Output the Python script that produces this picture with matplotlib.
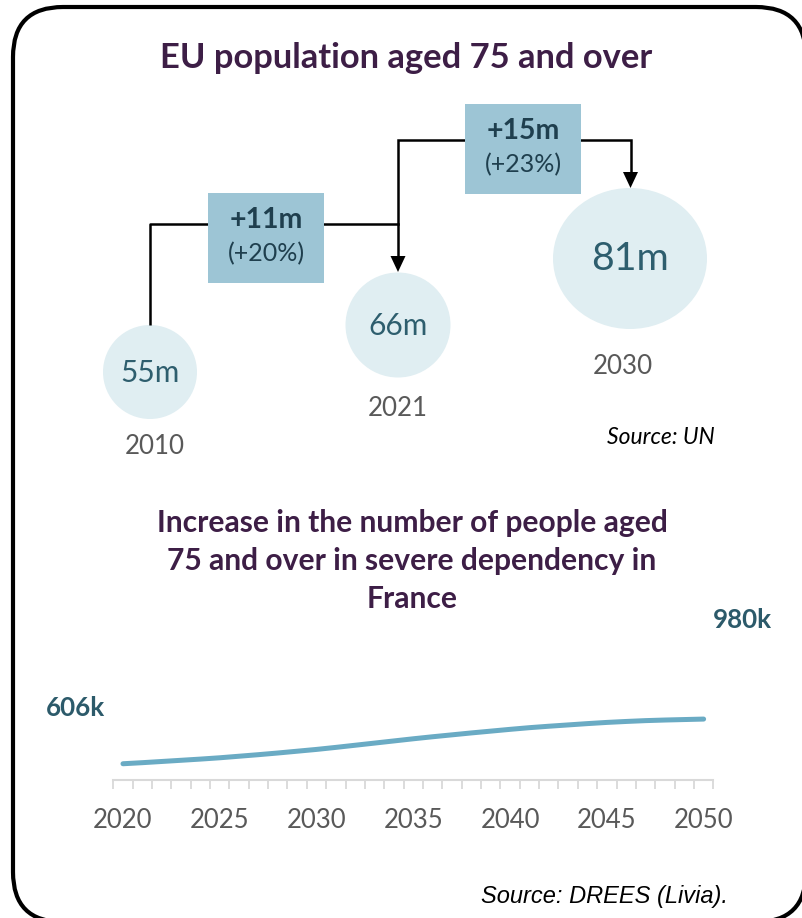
import matplotlib
matplotlib.use("Agg")
import matplotlib.pyplot as plt
from matplotlib.patches import FancyBboxPatch, Ellipse, Rectangle

# ---------------- data ----------------
eu_years = ["2010", "2021", "2030"]
eu_pop_m = [55, 66, 81]            # EU population aged 75+ (millions)
eu_change_m = [11, 15]             # absolute change between steps (millions)
eu_change_pct = [20, 23]           # relative change between steps (%)

fr_years = list(range(2020, 2051))
fr_dependent_k = [606, 615, 625, 635, 645, 656, 669, 682, 696, 711,
                  726, 743, 761, 779, 797, 815, 832, 848, 864, 879,
                  894, 908, 920, 931, 942, 952, 960, 967, 972, 976, 980]
fr_tick_labels = ["2020", "2025", "2030", "2035", "2040", "2045", "2050"]

# ---------------- styles ----------------
W, H = 802, 918
PURPLE = "#3d1e46"
CIRCLE = "#e0eef2"
BOX = "#9dc5d5"
BOXTXT = "#1f3f4e"
CIRCTXT = "#2e5e6e"
GREY = "#595959"
LINE = "#6aabc4"
KTXT = "#2c5a6a"
FONT = "Lato"

fig = plt.figure(figsize=(W / 100, H / 100), dpi=100)
bg = fig.add_axes([0, 0, 1, 1])
bg.set_xlim(0, W)
bg.set_ylim(H, 0)
bg.axis("off")

# rounded frame
frame = FancyBboxPatch((13, 7), 793, 915, boxstyle="round,pad=0,rounding_size=50",
                       fc="white", ec="black", lw=3.0, zorder=0, clip_on=False)
bg.add_patch(frame)

# title
bg.text(406, 58, "EU population aged 75 and over", ha="center", va="center",
        fontsize=24.8, fontweight="bold", color=PURPLE, family=FONT)

# circles (positions/sizes are layout only)
circ_xy = [(150, 372), (398, 325), (630, 258.5)]
circ_wh = [(94, 94), (105, 105), (154, 141)]
circ_fs = [21.5, 21.5, 28.3]
year_xy = [(155, 447), (398, 409), (623, 367)]
for (cx, cy), (cw, ch), fs, (yx, yy), v, yr in zip(circ_xy, circ_wh, circ_fs, year_xy,
                                                   eu_pop_m, eu_years):
    bg.add_patch(Ellipse((cx, cy), cw, ch, fc=CIRCLE, ec="none", zorder=1))
    bg.text(cx, cy + 1, f"{v}m", ha="center", va="center", fontsize=fs,
            color=CIRCTXT, family=FONT, zorder=3)
    bg.text(yx, yy, yr, ha="center", va="center", fontsize=18.6, color=GREY, family=FONT)

# connectors
lw = 1.8
bg.plot([149.5, 149.5, 208], [325, 223.5, 223.5], color="black", lw=lw, zorder=2,
        solid_capstyle="butt")
bg.plot([324, 398], [223.5, 223.5], color="black", lw=lw, zorder=2)
bg.plot([398, 398, 465], [258, 140, 140], color="black", lw=lw, zorder=2,
        solid_joinstyle="miter")
bg.plot([581, 630.5, 630.5], [140, 140, 174], color="black", lw=lw, zorder=2,
        solid_joinstyle="miter")
for (tx, ty) in [(398, 272), (630.5, 188)]:
    bg.add_patch(plt.Polygon([(tx - 7.5, ty - 16), (tx + 7.5, ty - 16), (tx, ty)],
                             closed=True, fc="black", ec="none", zorder=2))

# change boxes
box_xy = [(208, 193), (465, 104)]
for (bx, by), d, p in zip(box_xy, eu_change_m, eu_change_pct):
    bg.add_patch(Rectangle((bx, by), 116, 90, fc=BOX, ec="none", zorder=2))
    bg.text(bx + 58, by + 27, f"+{d}m", ha="center", va="center", fontsize=20.5,
            fontweight="bold", color=BOXTXT, family=FONT, zorder=3)
    bg.text(bx + 58, by + 61, f"(+{p}%)", ha="center", va="center", fontsize=18,
            color=BOXTXT, family=FONT, zorder=3)

bg.text(715, 438, "Source: UN", ha="right", va="center", fontsize=16.5,
        style="italic", color="black", family=FONT)

# second title
bg.text(412, 561, "Increase in the number of people aged\n75 and over in severe dependency in\nFrance",
        ha="center", va="center", fontsize=21.6, fontweight="bold", color=PURPLE,
        family=FONT, linespacing=1.45)

# ---------------- line chart ----------------
x_px0, x_px1 = 113.3, 713.3
y_axis_px, top_px = 780, 680
ax = fig.add_axes([x_px0 / W, (H - y_axis_px) / H, (x_px1 - x_px0) / W,
                   (y_axis_px - top_px) / H])
ax.patch.set_alpha(0)
scale = 8.37  # thousands per pixel
ax.set_xlim(fr_years[0] - 0.5, fr_years[-1] + 0.5)
ax.set_ylim(470, 470 + (y_axis_px - top_px) * scale)
ax.plot(fr_years, fr_dependent_k, color=LINE, lw=3.6, solid_capstyle="round",
        solid_joinstyle="round", clip_on=False)
for s in ["left", "right", "top"]:
    ax.spines[s].set_visible(False)
ax.spines["bottom"].set_color("#d9d9d9")
ax.spines["bottom"].set_linewidth(1.5)
ax.set_yticks([])
ax.set_xticks([y - 0.5 for y in fr_years] + [fr_years[-1] + 0.5], minor=True)
ax.set_xticks([int(t) for t in fr_tick_labels])
ax.set_xticklabels(fr_tick_labels, fontsize=18.5, color=GREY, family=FONT)
ax.tick_params(axis="x", which="major", length=0, pad=20)
ax.tick_params(axis="x", which="minor", length=6.5, width=1.3, color="#d9d9d9")

bg.text(75, 708, f"{fr_dependent_k[0]}k", ha="center", va="center", fontsize=18.6,
        fontweight="bold", color=KTXT, family=FONT)
bg.text(742, 620, f"{fr_dependent_k[-1]}k", ha="center", va="center", fontsize=18.6,
        fontweight="bold", color=KTXT, family=FONT)

bg.text(728, 897, "Source: DREES (Livia).", ha="right", va="center", fontsize=17,
        style="italic", color="black", family="Liberation Sans")

fig.savefig("out.png", dpi=100)
